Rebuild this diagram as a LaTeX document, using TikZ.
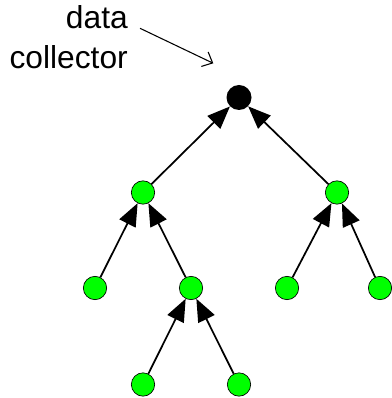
\documentclass[tikz,border=0pt]{standalone}
\usepackage{fontspec}
\setmainfont{Liberation Sans}
\usetikzlibrary{arrows.meta}

\tikzset{
	mote/.style={circle, draw, fill=green, line width=0.5pt, inner sep=0pt, minimum size=17.5pt},
	sink/.style={circle, fill=black, inner sep=0pt, minimum size=18.75pt},
	uplink/.style={-{Triangle[length=17pt, width=13.5pt]}, line width=1.3pt},
	label/.style={anchor=base east, inner sep=0pt, font=\fontsize{23.8pt}{28pt}\selectfont},
}

\begin{document}
\begin{tikzpicture}[x=0.75pt, y=-0.75pt]
	
	\useasboundingbox (0, 0) rectangle (391, 398);
	
	% data collector
	\node [sink] (dc) at (239, 97.5) {};
	
	% tree of motes
	\node [mote] (m1) at (143, 192.5) {};
	\node [mote] (m2) at (337, 192.5) {};
	\node [mote] (m11) at (95, 288) {};
	\node [mote] (m12) at (191, 288) {};
	\node [mote] (m21) at (287, 288) {};
	\node [mote] (m22) at (380, 288) {};
	\node [mote] (m121) at (143, 384.5) {};
	\node [mote] (m122) at (239, 384.5) {};
	
	\draw [uplink] (m1) -- (dc);
	\draw [uplink] (m2) -- (dc);
	\draw [uplink] (m11) -- (m1);
	\draw [uplink] (m12) -- (m1);
	\draw [uplink] (m21) -- (m2);
	\draw [uplink] (m22) -- (m2);
	\draw [uplink] (m121) -- (m12);
	\draw [uplink] (m122) -- (m12);
	
	% label
	\node [label] (lbl1) at (128, 28.3) {data};
	\node [label] (lbl2) at (128, 68.3) {collector};
	
	\coordinate (ptr) at (140, 28.3);
	\coordinate (ptrend) at (213.3, 63.3);
	\draw [-{Straight Barb[length=6.5pt, width=12pt]}, line width=0.8pt] (ptr) -- (ptrend);
	
\end{tikzpicture}
\end{document}
